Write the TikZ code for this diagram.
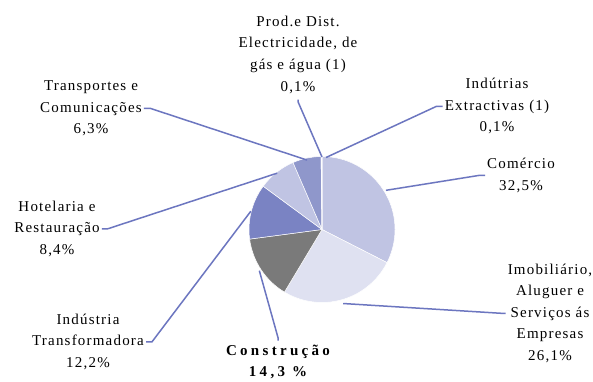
\documentclass[tikz,border=0pt]{standalone}
\usepackage{fontspec}
\usetikzlibrary{calc}
\setmainfont{Liberation Serif}[LetterSpace=8]
\newfontfamily\boldlbl{Liberation Serif}[LetterSpace=22]
\definecolor{cCom}{HTML}{C0C4E3}
\definecolor{cImo}{HTML}{DFE1F1}
\definecolor{cCon}{HTML}{7A7A7A}
\definecolor{cInd}{HTML}{7A83C3}
\definecolor{cHot}{HTML}{C0C4E3}
\definecolor{cTra}{HTML}{8F97CB}
\definecolor{cPro}{HTML}{DFE1F1}
\definecolor{cExt}{HTML}{F2F3FA}
\definecolor{cLead}{HTML}{6C76C0}
\tikzset{
  lbl/.style={align=center, inner sep=2pt, font=\fontsize{15}{21.6}\selectfont},
  leader/.style={draw=cLead, line width=1.5pt},
  slice/.style={draw=white, line width=0.5pt}
}
\newcommand{\pieslice}[3]{%
  \filldraw[slice, fill=#1] (C) -- ++(#2:73) arc[start angle=#2, end angle=#3, radius=73] -- cycle;}
\begin{document}
\begin{tikzpicture}[x=1pt,y=1pt]
\useasboundingbox (0,0) rectangle (593,381);
\clip (0,0) rectangle (593,381);
\fill[white] (0,0) rectangle (593,381);
\coordinate (C) at (322,151.5);
% slices (clockwise from 12 o'clock)
\pieslice{cCom}{90}{-27}
\pieslice{cImo}{-27}{-120.96}
\pieslice{cCon}{-120.96}{-172.44}
\pieslice{cInd}{-172.44}{-216.36}
\pieslice{cHot}{-216.36}{-246.6}
\pieslice{cTra}{-246.6}{-269.28}
\pieslice{cPro}{-269.28}{-269.64}
\pieslice{cExt}{-269.64}{-270}
% leader end points on the pie
\coordinate (prodpt) at (322,224);
\coordinate (extrpt) at (326,223.5);
\coordinate (comept) at ($(C)+(31.5:75)$);
\coordinate (imobpt) at ($(C)+(-74:77)$);
\coordinate (conspt) at ($(C)+(-146.7:75)$);
\coordinate (indtpt) at ($(C)+(165.6:73.5)$);
\coordinate (hotpt) at ($(C)+(128.5:72)$);
\coordinate (transpt) at ($(C)+(102.1:71)$);
% labels
\node[lbl] (prod) at (298,326.25) {Prod.e Dist.\\Electricidade, de\\gás e água (1)\\0,1\%};
\node[lbl] (extr) at (497,274.75) {Indútrias\\Extractivas (1)\\0,1\%};
\node[lbl] (come) at (521,205.75) {Comércio\\32,5\%};
\node[lbl] (imob) at (550,67.75) {Imobiliário,\\Aluguer e\\Serviços ás\\Empresas\\26,1\%};
\node[lbl, inner sep=0.5pt, font=\fontsize{15}{21.6}\boldlbl\bfseries] (cons) at (278,19) {Construção\\14,3 \%};
\node[lbl] (indt) at (88,39.25) {Indústria\\Transformadora\\12,2\%};
\node[lbl] (hot) at (57,152.25) {Hotelaria e\\Restauração\\8,4\%};
\node[lbl] (trans) at (91,272.75) {Transportes e\\Comunicações\\6,3\%};
% leaders
\draw[leader] ([yshift=3.5pt]cons.north) -- ++(0,3) -- (conspt);
\draw[leader] ([yshift=-4pt]prod.south) -- ++(0,-2) -- (prodpt);
\draw[leader] (extr.west) -- ++(-6,0) -- (extrpt);
\draw[leader] (come.west) -- ++(-5,0) -- (comept);
\draw[leader] (imob.west) -- ++(-5,0) -- (imobpt);
\draw[leader] (indt.east) -- ++(6,0) -- (indtpt);
\draw[leader] (hot.east) -- ++(6,0) -- (hotpt);
\draw[leader] (trans.east) -- ++(6,0) -- (transpt);
\end{tikzpicture}
\end{document}
